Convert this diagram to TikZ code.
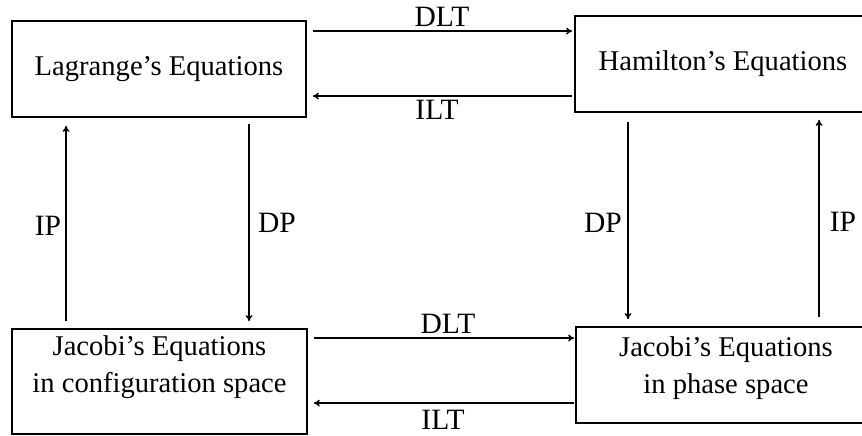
\documentclass[tikz,border=0pt]{standalone}
\usepackage{fontspec}
\setmainfont{Liberation Serif}
\usetikzlibrary{calc,arrows.meta}
\begin{document}
\begin{tikzpicture}[x=1pt,y=-1pt,
  eqbox/.style={draw,line width=1.9pt,minimum width=#1,inner sep=0pt,align=center,
    font=\fontsize{28.6}{37}\selectfont},
  lbl/.style={font=\fontsize{29.5}{32}\selectfont,inner sep=0pt},
  arr/.style={line width=1.5pt,-{To[length=6pt,width=7pt]}}]
\useasboundingbox (0,0) rectangle (862,436);
\fill[white] (0,0) rectangle (862,436);
\node[eqbox=294pt,minimum height=96pt] (LA) at (159,69) {Lagrange’s Equations};
\node[eqbox=296pt,minimum height=96pt] (H) at (723,64) {Hamilton’s Equations};
\node[eqbox=295pt,minimum height=105pt,text depth=34pt] (J1) at (159.5,381.5) {Jacobi’s Equations\\in configuration space};
\node[eqbox=300pt,minimum height=96pt,text depth=19pt] (J2) at (726,375) {Jacobi’s Equations\\in phase space};
% horizontal arrows
\draw[arr] ($(LA.north east)+(6,11)$) -- ($(H.north west)+(-2,16)$);
\draw[arr] ($(H.north west)+(-2,81)$) -- ($(LA.north east)+(6,76)$);
\draw[arr] ($(J1.north east)+(6,10)$) -- ($(J2.north west)+(-1,12)$);
\draw[arr] ($(J2.north west)+(-1,77)$) -- ($(J1.north east)+(6,75)$);
% vertical arrows
\draw[arr] ($(J1.north west)+(55,-7)$) -- ($(LA.south west)+(55,8)$);
\draw[arr] ($(LA.south west)+(238,6)$) -- ($(J1.north west)+(238,-7)$);
\draw[arr] ($(H.south west)+(54,9)$) -- ($(J2.north west)+(53,-7)$);
\draw[arr] ($(J2.north west)+(244,-9)$) -- ($(H.south west)+(245,7)$);
% labels
\node[lbl] (dlt1) at (442,17) {DLT};
\node[lbl] (ilt1) at (437,110) {ILT};
\node[lbl] (dlt2) at (448,324) {DLT};
\node[lbl] (ilt2) at (443,420) {ILT};
\node[lbl] (ip1) at (48,226) {IP};
\node[lbl] (dp1) at (277,223) {DP};
\node[lbl] (dp2) at (603,223) {DP};
\node[lbl] (ip2) at (843,222) {IP};
\end{tikzpicture}
\end{document}
